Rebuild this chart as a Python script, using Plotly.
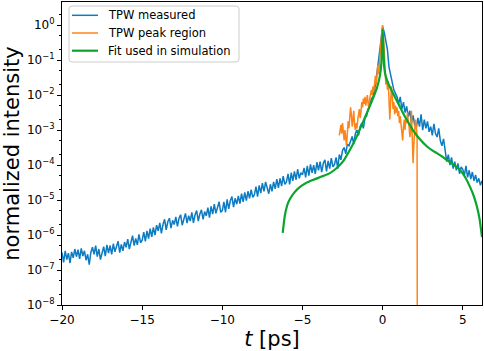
import numpy as np
import plotly.graph_objects as go

# ---- data (intensities stored as log10 values) ----
t_measured_start = -20.0
t_measured_step = 0.1
measured_log10 = [
    -6.50, -6.78, -6.45, -6.70, -6.52, -6.80, -6.48, -6.65, -6.40, -6.62,
    -6.42, -6.68, -6.38, -6.60, -6.45, -6.72, -6.55, -6.85, -6.50, -6.35,
    -6.55, -6.30, -6.62, -6.40, -6.70, -6.48, -6.33, -6.60, -6.28, -6.52,
    -6.30, -6.55, -6.25, -6.48, -6.32, -6.18, -6.50, -6.27, -6.45, -6.20,
    -6.35, -6.12, -6.40, -6.18, -6.02, -6.30, -6.10, -6.28, -5.98, -6.22,
    -6.15, -5.92, -6.18, -5.88, -6.10, -5.82, -6.05, -5.78, -6.00, -5.72,
    -5.88, -5.65, -5.95, -5.70, -5.55, -5.85, -5.62, -5.52, -5.80, -5.58,
    -5.70, -5.48, -5.75, -5.52, -5.42, -5.72, -5.50, -5.38, -5.66, -5.45,
    -5.60, -5.35, -5.65, -5.42, -5.30, -5.60, -5.40, -5.28, -5.55, -5.33,
    -5.45, -5.22, -5.50, -5.18, -5.40, -5.12, -5.38, -5.22, -5.05, -5.35,
    -5.30, -5.05, -5.35, -4.98, -5.25, -5.02, -4.90, -5.20, -4.95, -5.12,
    -4.88, -5.10, -4.82, -5.05, -4.78, -5.02, -4.75, -4.95, -4.70, -4.92,
    -4.85, -4.62, -4.90, -4.58, -4.80, -4.52, -4.75, -4.48, -4.70, -4.82,
    -4.55, -4.75, -4.48, -4.68, -4.40, -4.65, -4.38, -4.60, -4.32, -4.55,
    -4.48, -4.25, -4.55, -4.22, -4.45, -4.18, -4.42, -4.12, -4.38, -4.22,
    -4.28, -4.08, -4.35, -4.02, -4.30, -3.98, -4.22, -4.00, -4.25, -3.92,
    -4.15, -3.90, -4.20, -3.95, -3.85, -4.18, -3.88, -4.10, -3.80, -4.05,
    -3.98, -3.78, -4.10, -3.70, -3.85, -3.58, -3.50, -3.68, -3.40, -3.45,
    -3.32, -3.18, -3.40, -3.10, -3.00, -3.15, -2.90, -2.80, -2.95, -2.65,
    -2.60, -2.40, -2.30, -2.10, -2.05, -1.85, -1.55, -1.20, -0.85, -0.40,
    -0.05, -0.20, -0.45, -0.70, -1.20, -1.45, -1.60, -1.85, -1.95, -2.05,
    -2.25, -2.05, -2.40, -2.20, -2.50, -2.32, -2.62, -2.45, -2.80, -2.58,
    -2.85, -2.95, -2.65, -2.90, -2.55, -3.00, -2.70, -2.95, -2.75, -3.05,
    -2.90, -3.15, -2.82, -3.10, -3.20, -2.95, -3.30, -3.45, -3.25, -3.65,
    -3.90, -3.70, -4.00, -3.78, -4.10, -3.90, -4.15, -3.95, -4.25, -4.05,
    -4.12, -4.30, -4.02, -4.35, -4.15, -4.40, -4.20, -4.45, -4.28, -4.50,
    -4.38, -4.58, -4.45,
]

peak_t = [
    -2.70, -2.65, -2.60, -2.55, -2.50, -2.45, -2.40, -2.35, -2.30, -2.25,
    -2.20, -2.15, -2.10, -2.05, -2.00, -1.95, -1.90, -1.85, -1.80, -1.75,
    -1.70, -1.65, -1.60, -1.55, -1.50, -1.45, -1.40, -1.35, -1.30, -1.25,
    -1.20, -1.15, -1.10, -1.05, -1.00, -0.95, -0.90, -0.85, -0.80, -0.75,
    -0.70, -0.65, -0.60, -0.55, -0.50, -0.45, -0.40, -0.35, -0.30, -0.25,
    -0.20, -0.15, -0.10, -0.05, 0.00, 0.05, 0.10, 0.15, 0.20, 0.25,
    0.30, 0.35, 0.40, 0.45, 0.50, 0.55, 0.60, 0.65, 0.70, 0.75,
    0.80, 0.85, 0.90, 0.95, 1.00, 1.05, 1.10, 1.15, 1.20, 1.25,
    1.30, 1.35, 1.40, 1.45, 1.50, 1.55, 1.60, 1.65, 1.70, 1.75,
    1.80, 1.85, 1.90, 1.95, 2.00, 2.05, 2.10, 2.15, 2.17,
]
peak_log10 = [
    -3.15, -3.00, -2.85, -3.10, -2.80, -3.05, -3.30, -3.00, -3.20, -3.45,
    -3.10, -2.75, -2.95, -2.60, -2.35, -2.55, -2.90, -2.70, -2.45, -2.85,
    -3.00, -2.80, -2.95, -2.70, -2.55, -2.40, -2.65, -2.50, -2.20, -2.35,
    -2.10, -2.25, -2.05, -2.30, -2.15, -2.00, -2.25, -2.40, -2.10, -1.95,
    -1.85, -2.00, -1.75, -1.90, -1.60, -1.45, -1.70, -1.30, -1.15, -1.40,
    -1.05, -0.80, -0.50, -0.20, 0.00, -0.30, -0.75, -1.20, -1.70, -1.50,
    -1.85, -1.60, -2.10, -2.70, -2.20, -1.75, -2.00, -2.40, -2.20, -2.55,
    -2.30, -2.50, -2.35, -2.60, -2.45, -2.80, -2.60, -2.90, -3.10, -3.30,
    -2.90, -2.70, -3.00, -2.65, -2.80, -2.50, -2.75, -2.90, -3.20, -3.05,
    -2.45, -3.30, -3.95, -3.40, -2.75, -2.70, -2.90, -3.20, -12.0,
]

fit_t = [
    -6.23, -6.10, -5.95, -5.79, -5.50, -5.17, -4.80, -4.36, -3.80, -3.29,
    -2.95, -2.67, -2.40, -2.23, -1.90, -1.61, -1.30, -0.98, -0.65, -0.36,
    -0.17, -0.08, -0.04, 0.00, 0.04, 0.10, 0.21, 0.40, 0.64, 0.95,
    1.27, 1.60, 1.89, 2.30, 2.77, 3.10, 3.39, 3.70, 4.02, 4.40,
    4.83, 5.15, 5.46, 5.70, 5.89, 6.05, 6.20,
]
fit_log10 = [
    -5.94, -5.45, -5.15, -4.98, -4.78, -4.63, -4.52, -4.43, -4.33, -4.23,
    -4.12, -4.00, -3.85, -3.72, -3.45, -3.18, -2.85, -2.51, -2.15, -1.80,
    -1.45, -1.10, -0.70, -0.12, -0.50, -1.20, -1.49, -1.72, -1.94, -2.22,
    -2.51, -2.78, -3.00, -3.25, -3.47, -3.58, -3.66, -3.75, -3.86, -3.98,
    -4.14, -4.35, -4.63, -4.90, -5.20, -5.55, -6.06,
]

series_names = ["TPW measured", "TPW peak region", "Fit used in simulation"]
y_tick_exponents = [0, -1, -2, -3, -4, -5, -6, -7, -8]
x_tick_values = [-20, -15, -10, -5, 0, 5]

# ---- build arrays ----
measured_t = np.round(t_measured_start + t_measured_step * np.arange(len(measured_log10)), 2)
measured_y = 10.0 ** np.array(measured_log10)
peak_y = 10.0 ** np.array(peak_log10)
fit_y = 10.0 ** np.array(fit_log10)

BLUE = "#0d7bc2"
ORANGE = "#ff8418"
GREEN = "#0aa52c"
FONT = "DejaVu Sans"
colors = [BLUE, ORANGE, GREEN]
widths = [1.5, 1.5, 2.2]

fig = go.Figure()
fig.add_trace(go.Scatter(x=measured_t, y=measured_y, mode="lines",
                         line=dict(color=BLUE, width=1.5), name=series_names[0]))
fig.add_trace(go.Scatter(x=peak_t, y=peak_y, mode="lines",
                         line=dict(color=ORANGE, width=1.5), name=series_names[1]))
fig.add_trace(go.Scatter(x=fit_t, y=fit_y, mode="lines",
                         line=dict(color=GREEN, width=2.2, shape="spline", smoothing=0.6),
                         name=series_names[2]))

# ---- matplotlib-style legend drawn in paper coordinates ----
W, H = 484, 351
ML, MR, MT, MB = 62, 2, 2, 46
PW, PH = W - ML - MR, H - MT - MB


def px(xp):
    return (xp - ML) / PW


def py(yp):
    return (H - MB - yp) / PH


x0, x1, y0, y1, r = 69, 239, 6, 62, 3
path = (f"M {px(x0 + r)},{py(y0)} L {px(x1 - r)},{py(y0)} "
        f"Q {px(x1)},{py(y0)} {px(x1)},{py(y0 + r)} L {px(x1)},{py(y1 - r)} "
        f"Q {px(x1)},{py(y1)} {px(x1 - r)},{py(y1)} L {px(x0 + r)},{py(y1)} "
        f"Q {px(x0)},{py(y1)} {px(x0)},{py(y1 - r)} L {px(x0)},{py(y0 + r)} "
        f"Q {px(x0)},{py(y0)} {px(x0 + r)},{py(y0)} Z")
shapes = [dict(type="path", xref="paper", yref="paper", path=path,
               fillcolor="rgba(255,255,255,0.8)", line=dict(color="#cccccc", width=1))]
annotations = []
row_y = [15.3, 33.0, 50.7]
for name, c, w, yy in zip(series_names, colors, widths, row_y):
    shapes.append(dict(type="line", xref="paper", yref="paper",
                       x0=px(72), x1=px(98), y0=py(yy), y1=py(yy),
                       line=dict(color=c, width=w)))
    annotations.append(dict(xref="paper", yref="paper", x=px(106), y=py(yy),
                            xanchor="left", yanchor="middle", showarrow=False,
                            text=name, font=dict(family=FONT, size=11.5, color="black")))

ticktext = ["10<sup>%s</sup>" % (str(e).replace("-", "\u2212")) for e in y_tick_exponents]
fig.update_layout(
    width=W, height=H,
    margin=dict(l=ML, r=MR, t=MT, b=MB),
    paper_bgcolor="white", plot_bgcolor="white",
    font=dict(family=FONT, size=12, color="black"),
    showlegend=False,
    shapes=shapes, annotations=annotations,
    xaxis=dict(range=[-20, 6.2], tickvals=x_tick_values,
               ticktext=[str(v).replace("-", "\u2212") for v in x_tick_values],
               ticks="outside", ticklen=4, tickcolor="black", automargin=False,
               showline=True, linecolor="black", linewidth=1, mirror=True,
               showgrid=False, zeroline=False,
               title=dict(text="<i>t</i> [ps]", font=dict(size=21, family=FONT), standoff=2)),
    yaxis=dict(type="log", range=[-8, 0.66],
               tickvals=[10.0 ** e for e in y_tick_exponents], ticktext=ticktext,
               ticks="outside", ticklen=4, tickcolor="black", automargin=False,
               minor=dict(ticks="outside", ticklen=2, tickcolor="black", showgrid=False),
               showline=True, linecolor="black", linewidth=1, mirror=True,
               showgrid=False, zeroline=False,
               title=dict(text="normalized intensity", font=dict(size=21, family=FONT), standoff=4)),
)

fig.write_html("out.html", config={"displayModeBar": False},
               post_script="document.body.style.margin='0';document.body.style.overflow='hidden';")
